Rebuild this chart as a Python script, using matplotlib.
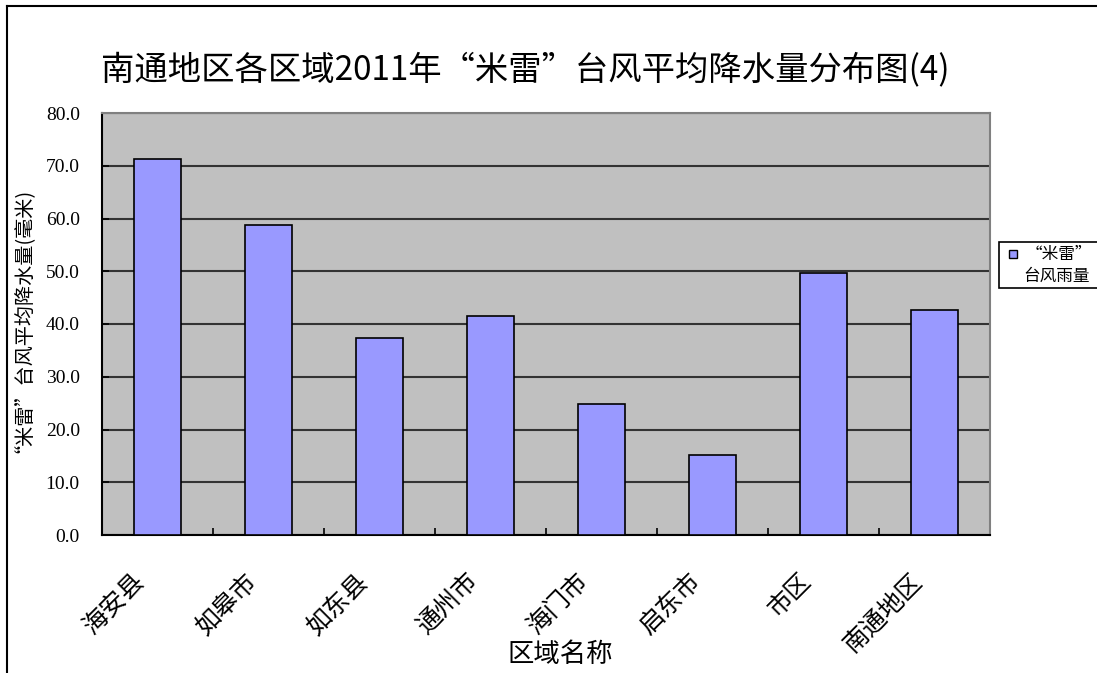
import matplotlib
matplotlib.use("Agg")
import matplotlib.pyplot as plt
from matplotlib.lines import Line2D
from matplotlib.patches import Rectangle
import matplotlib.transforms as mtransforms
import numpy as np

plt.rcParams['font.family'] = ['Liberation Serif', 'Noto Sans CJK SC', 'DejaVu Sans']
CJK = ['Noto Sans CJK SC', 'DejaVu Sans']

regions = ["海安县", "如皋市", "如东县", "通州市", "海门市", "启东市", "市区", "南通地区"]
rainfall = [71.2, 58.7, 37.3, 41.6, 24.8, 15.2, 49.6, 42.6]
yticks = [0, 10, 20, 30, 40, 50, 60, 70, 80]

title = "南通地区各区域2011年“米雷”台风平均降水量分布图(4)"
ylabel = "“米雷”台风平均降水量(毫米)"
xlabel = "区域名称"
legend_lines = ["“米雷”", "台风雨量"]

W, H = 1097, 673
fig = plt.figure(figsize=(W / 100, H / 100), dpi=100)
fig.patch.set_facecolor("white")


def fx(px):
    return px / W


def fy(py):
    return 1 - py / H


# outer chart frame (left and top edges)
fig.add_artist(Line2D([fx(7), fx(7)], [0, fy(6)], transform=fig.transFigure,
                      color="black", lw=1.5))
fig.add_artist(Line2D([fx(7), 1], [fy(6), fy(6)], transform=fig.transFigure,
                      color="black", lw=1.5))

ax = fig.add_axes([fx(102), fy(535), (990 - 102) / W, (535 - 113) / H])
ax.set_facecolor("#C0C0C0")

x = np.arange(len(regions))
ax.bar(x, rainfall, width=0.42, color="#9999FF", edgecolor="black", linewidth=1.2,
       zorder=3)

ax.set_xlim(-0.5, len(regions) - 0.5)
ax.set_ylim(0, 80)
ax.set_yticks(yticks)
ax.set_yticklabels([f"{v:.1f}" for v in yticks], fontsize=14)
ax.yaxis.grid(True, color="#333333", lw=1.5, zorder=1)
ax.set_axisbelow(True)

ax.set_xticks(x)
ax.set_xticklabels(regions, fontsize=18, rotation=45, ha="right", va="top",
                   rotation_mode="anchor", family=CJK)
ax.tick_params(axis="x", which="major", length=0, pad=24)
shift = mtransforms.ScaledTranslation(-25 / 100, 0, fig.dpi_scale_trans)
for lbl in ax.get_xticklabels():
    lbl.set_transform(lbl.get_transform() + shift)
ax.set_xticks(np.arange(-0.5, len(regions) + 0.5, 1), minor=True)
ax.tick_params(axis="x", which="minor", direction="in", length=5, width=1.2, color="black")
ax.tick_params(axis="y", direction="in", length=5, width=1.2, color="black", pad=16)

for s in ["left", "bottom"]:
    ax.spines[s].set_color("black")
    ax.spines[s].set_linewidth(1.5)
for s in ["top", "right"]:
    ax.spines[s].set_color("#808080")
    ax.spines[s].set_linewidth(1.5)

ax.set_ylabel(ylabel, fontsize=14.5, family=CJK)
ax.yaxis.set_label_coords((14 - 102) / (990 - 102), (535 - 315) / (535 - 113))
ax.set_xlabel(xlabel, fontsize=19, family=CJK)
ax.xaxis.set_label_coords((560 - 102) / (990 - 102), -(655 - 535) / (535 - 113))
ax.xaxis.label.set_va("center")
ax.yaxis.label.set_va("center")

fig.text(fx(525), fy(70), title, fontsize=24, ha="center", va="center", family=CJK)

# legend box drawn beside the plot area
fig.add_artist(Rectangle((fx(999), fy(288)), fx(1110) - fx(999), fy(242) - fy(288),
                         transform=fig.transFigure, facecolor="white",
                         edgecolor="black", lw=1.2))
fig.add_artist(Rectangle((fx(1009), fy(258)), fx(8), fy(250) - fy(258),
                         transform=fig.transFigure, facecolor="#9999FF",
                         edgecolor="black", lw=1.0))
fig.text(fx(1026), fy(254), legend_lines[0], fontsize=12, ha="left", va="center",
         family=CJK)
fig.text(fx(1023), fy(276), legend_lines[1], fontsize=12, ha="left", va="center",
         family=CJK)

fig.savefig("out.png", dpi=100)
